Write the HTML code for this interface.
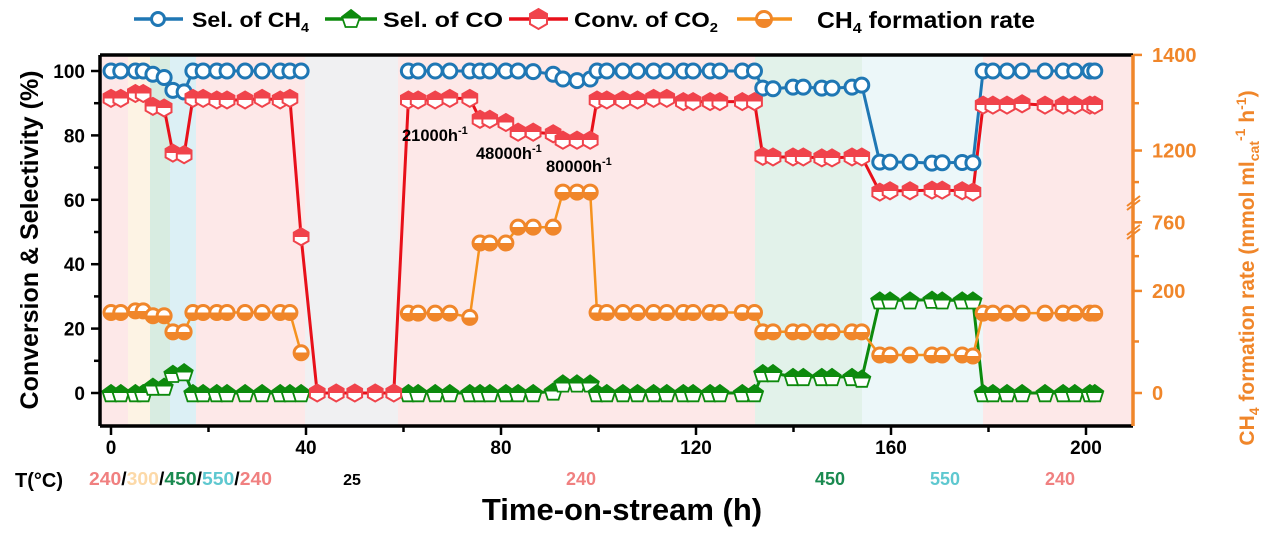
<!DOCTYPE html>
<html><head><meta charset="utf-8"><style>
body{margin:0;background:#fff;}
svg text{font-family:"Liberation Sans",Arial,sans-serif;font-weight:bold;}
</style></head><body>
<svg id="chart" width="1267" height="533" viewBox="0 0 1267 533" xmlns="http://www.w3.org/2000/svg" style="position:absolute;left:0;top:0">
<defs>
<linearGradient id="halfRed" x1="0" y1="0" x2="0" y2="1"><stop offset="0.5" stop-color="#f0434b"/><stop offset="0.5" stop-color="#fff"/></linearGradient>
<linearGradient id="halfOrange" x1="0" y1="0" x2="0" y2="1"><stop offset="0.5" stop-color="#fff"/><stop offset="0.5" stop-color="#f0862a"/></linearGradient>
<linearGradient id="halfGreen" x1="0" y1="0" x2="0" y2="1"><stop offset="0.5" stop-color="#0d8a0d"/><stop offset="0.5" stop-color="#fff"/></linearGradient>
</defs>
<g id="bands"></g>
<g id="marks"></g>
<g id="axes"></g>
<g>
 <g><line x1="134" y1="19" x2="183" y2="19" stroke="#1f77b4" stroke-width="3.5"/><circle cx="158" cy="19" r="6.5" fill="#fff" stroke="#1f77b4" stroke-width="3"/><text x="192" y="27" font-size="21" textLength="117" lengthAdjust="spacingAndGlyphs">Sel. of CH<tspan font-size="13" dy="5">4</tspan></text></g>
 <g><line x1="325" y1="19" x2="377" y2="19" stroke="#0d8a0d" stroke-width="3.5"/><polygon points="351,10 360,17 356.5,27 345.5,27 342,17" fill="url(#halfGreen)" stroke="#0d8a0d" stroke-width="1.8"/><text x="383" y="27" font-size="21" textLength="120" lengthAdjust="spacingAndGlyphs">Sel. of CO</text></g>
 <g><line x1="509" y1="19" x2="568" y2="19" stroke="#e8101a" stroke-width="3.5"/><polygon points="547,24 538.5,29 530,24 530,14 538.5,9 547,14" fill="url(#halfRed)" stroke="#f0434b" stroke-width="2"/><text x="574" y="27" font-size="21" textLength="144" lengthAdjust="spacingAndGlyphs">Conv. of CO<tspan font-size="13" dy="5">2</tspan></text></g>
 <g><line x1="737" y1="19" x2="792" y2="19" stroke="#f5921e" stroke-width="3.5"/><circle cx="764" cy="19" r="7.5" fill="url(#halfOrange)" stroke="#f0862a" stroke-width="3"/><text x="817" y="28" font-size="23" textLength="218" lengthAdjust="spacingAndGlyphs">CH<tspan font-size="15" dy="5">4</tspan><tspan dy="-5"> formation rate</tspan></text></g>
</g>
<g>
 <text x="402" y="141" font-size="16.5">21000h<tspan font-size="11" dy="-7">-1</tspan></text>
 <text x="476" y="159" font-size="16.5">48000h<tspan font-size="11" dy="-7">-1</tspan></text>
 <text x="546" y="172" font-size="16.5">80000h<tspan font-size="11" dy="-7">-1</tspan></text>
 <text transform="translate(38,240) rotate(-90)" text-anchor="middle" font-size="25">Conversion &amp; Selectivity (%)</text>
 <text transform="translate(1254,268) rotate(-90)" text-anchor="middle" font-size="21" fill="#f0862a">CH<tspan font-size="14" dy="5">4</tspan><tspan dy="-5"> formation rate (mmol ml</tspan><tspan font-size="14" dy="5">cat</tspan><tspan font-size="14" dy="-14">-1</tspan><tspan dy="9"> h</tspan><tspan font-size="14" dy="-8">-1</tspan><tspan dy="8">)</tspan></text>
 <text x="622" y="520" text-anchor="middle" font-size="31">Time-on-stream (h)</text>
 <text x="15" y="487" font-size="20">T(°C)</text>
 <g font-size="18">
  <text x="89" y="485" textLength="183" lengthAdjust="spacingAndGlyphs"><tspan fill="#f08080">240</tspan><tspan fill="#000">/</tspan><tspan fill="#fcd9a8">300</tspan><tspan fill="#000">/</tspan><tspan fill="#1a8a50">450</tspan><tspan fill="#000">/</tspan><tspan fill="#5ec8d0">550</tspan><tspan fill="#000">/</tspan><tspan fill="#f08080">240</tspan></text>
  <text x="352" y="485" text-anchor="middle" fill="#000" font-size="16">25</text>
  <text x="581" y="485" text-anchor="middle" fill="#f08080">240</text>
  <text x="830" y="485" text-anchor="middle" fill="#1a8a50">450</text>
  <text x="945" y="485" text-anchor="middle" fill="#5ec8d0">550</text>
  <text x="1060" y="485" text-anchor="middle" fill="#f08080">240</text>
 </g>
</g>
</svg>
<script>
const times=[0,2,5,6.6,8.6,10.9,12.7,15,16.8,18.9,21.7,23.8,27.5,31,34.7,36.7,39,
42.3,46.2,50,54.2,58,
61,63,66.5,69.5,73.6,75.7,77.7,81,83.5,86.6,90.7,92.7,95.6,98.3,
99.7,101.7,105,108,111.3,114,117.4,119.4,122.9,124.9,129.5,132,
133.7,135.8,139.9,142,145.8,147.9,152,154,
157.7,159.8,163.9,168.4,170.5,174.6,176.8,
178.9,180.9,183.8,186.9,191.6,195.3,197.7,200.8,201.8];
const selCH4=[100,100,100,100,99,98,94,93.5,100,100,100,100,100,100,100,100,100,
null,null,null,null,null,
100,100,100,100,100,100,100,100,100,99.8,99,97.5,97,97.5,
100,100,100,100,100,100,100,100,100,100,100,100,
94.7,94.5,95,95,94.7,94.7,95,95.6,
71.7,71.7,71.7,71.4,71.5,71.6,71.5,
100,100,100,100,100,100,100,100,100];
const convCO2=[91.5,91.5,93,93,89,88.5,74.5,74,91.5,91.5,91,91,91,91.5,91,91.5,48.5,
0,0,0,0,0,
91,91,91,91.5,91.5,85,85,84,81,81,80.5,78.5,78.5,78.5,
91,91,91,91,91.5,91.5,90.5,90.5,90.5,90.5,90.5,90.5,
73.5,73.3,73.3,73.3,73,73,73.3,73.3,
62.4,62.8,62.8,63,63,62.8,62.4,
89.4,89.4,89.4,89.8,89.4,89.4,89.4,89.4,89.4];
const rateCH4=[25,25,25.5,25.5,24,24,19,19,25,25,25,25,25,25,25,25,12.5,
null,null,null,null,null,
24.8,24.8,24.8,24.8,23.5,46.6,46.6,46.6,51.5,51.5,51.5,62.4,62.4,62.4,
25,25,25,25,25,25,25,25,25,25,25,25,
19,19,19,19,19,19,19,19,
11.8,11.8,11.8,11.8,11.8,11.8,11.5,
24.8,24.8,24.8,24.8,24.8,24.8,24.8,24.8,24.8];
const selCO=[0,0,0,0,2,2,6,6.5,0,0,0,0,0,0,0,0,0,
null,null,null,null,null,
0,0,0,0,0,0,0,0,0,0,0.5,3,3,3,
0,0,0,0,0,0,0,0,0,0,0,0,
6.2,6.2,5,5,5,5,5,4.5,
28.8,28.8,28.8,29,28.8,28.8,28.8,
0,0,0,0,0,0,0,0,0];
const xTicks=[0,40,80,120,160,200];
const yTicks=[0,20,40,60,80,100];
const rightTickLabels=["0","200","760","1200","1400"];
const rightTickVals=[0,31.7,53,75.3,105];

const NS="http://www.w3.org/2000/svg";
const X=t=>111+t*4.875, Y=v=>393-v*3.22;
function mk(tag,attrs,parent,txt){const e=document.createElementNS(NS,tag);for(const k in attrs)e.setAttribute(k,attrs[k]);if(txt!==undefined)e.textContent=txt;parent.appendChild(e);return e;}
const bands=document.getElementById('bands'),marks=document.getElementById('marks'),axes=document.getElementById('axes');
[[100,128,'#fde8e8'],[128,150,'#fdf3e4'],[150,170,'#d8ece1'],[170,196,'#dcf0f5'],[196,305,'#fde8e8'],[305,398,'#f0f0f2'],[398,755,'#fde8e8'],[755,862,'#e2f2ea'],[862,983,'#ecf7f9'],[983,1133,'#fde8e8']].forEach(b=>{
 const r=mk('rect',{x:b[0],y:55,width:b[1]-b[0],height:371,fill:b[2]},bands);
 
 
});
function line(vals,color,w,name){
 let d='',pen=false;
 vals.forEach((v,i)=>{if(v===null){pen=false;return;}d+=(pen?'L':'M')+X(times[i]).toFixed(1)+' '+Y(v).toFixed(1);pen=true;});
 const p=mk('path',{d:d,fill:'none',stroke:color,'stroke-width':w,'stroke-linejoin':'round'},marks);
 
 
}
function hexPts(cx,cy,r){let s='';for(let k=0;k<6;k++){const a=Math.PI/6+k*Math.PI/3;s+=(cx+r*Math.cos(a)).toFixed(1)+','+(cy+r*Math.sin(a)).toFixed(1)+' ';}return s;}
function pentPts(cx,cy,r){let s='';for(let k=0;k<5;k++){const a=-Math.PI/2+k*2*Math.PI/5;s+=(cx+r*Math.cos(a)).toFixed(1)+','+(cy+r*Math.sin(a)+1).toFixed(1)+' ';}return s;}
function circle(cx,cy,stroke,fill,name){const c=mk('circle',{cx:cx,cy:cy,r:7,fill:fill,stroke:stroke,'stroke-width':3},marks);}
function hex(cx,cy){const h=mk('polygon',{points:hexPts(cx,cy,8.5),fill:'url(#halfRed)',stroke:'#f0434b','stroke-width':2},marks);}
function pent(cx,cy){const p=mk('polygon',{points:pentPts(cx,cy,9),fill:'url(#halfGreen)',stroke:'#0d8a0d','stroke-width':1.8},marks);}

line(selCO,'#0d8a0d',3,'sel-co-line');
line(rateCH4,'#f5921e',2.5,'ch4-rate-line');
line(selCH4,'#1f77b4',3,'sel-ch4-line');
line(convCO2,'#e8101a',3,'conv-co2-line');
selCO.forEach((v,i)=>{if(v!==null)pent(X(times[i]),Y(v));});
rateCH4.forEach((v,i)=>{if(v!==null)circle(X(times[i]),Y(v),'#f0862a','url(#halfOrange)','ch4-rate-point');});
selCH4.forEach((v,i)=>{if(v!==null)circle(X(times[i]),Y(v),'#1f77b4','#fff','sel-ch4-point');});
convCO2.forEach((v,i)=>{if(v!==null)hex(X(times[i]),Y(v));});

mk('path',{d:'M100 55 H1133 M100 426 H1133 M100 55 V426',stroke:'#000','stroke-width':3.5,fill:'none'},axes);
mk('line',{x1:1133,y1:55,x2:1133,y2:426,stroke:'#f0862a','stroke-width':3.5},axes);
for(let v=0;v<=100;v+=10){const major=v%20===0;mk('line',{x1:major?91:94,x2:100,y1:Y(v),y2:Y(v),stroke:'#000','stroke-width':2.5},axes);}
yTicks.forEach(v=>{const t=mk('text',{x:85,y:Y(v)+7,'text-anchor':'end','font-size':19,fill:'#000'},axes,String(v));});
for(let t=0;t<=200;t+=20){const major=t%40===0;mk('line',{x1:X(t),x2:X(t),y1:426,y2:major?435:432,stroke:'#000','stroke-width':2.5},axes);}
xTicks.forEach(t=>{const e=mk('text',{x:X(t),y:454,'text-anchor':'middle','font-size':19,fill:'#000'},axes,String(t));});
rightTickVals.forEach((v,i)=>{mk('line',{x1:1133,x2:1142,y1:Y(v),y2:Y(v),stroke:'#f0862a','stroke-width':2.5},axes);
 const e=mk('text',{x:1152,y:Y(v)+7,'font-size':20,fill:'#f0862a'},axes,rightTickLabels[i]);});
[90,65.5,42.5,16].forEach(v=>mk('line',{x1:1133,x2:1139,y1:Y(v),y2:Y(v),stroke:'#f0862a','stroke-width':2.5},axes));
[201,230].forEach(y=>{mk('line',{x1:1127,y1:y+5,x2:1140,y2:y-5,stroke:'#f0862a','stroke-width':2},axes);mk('line',{x1:1127,y1:y+9,x2:1140,y2:y-1,stroke:'#f0862a','stroke-width':2},axes);});
</script>
</body></html>
